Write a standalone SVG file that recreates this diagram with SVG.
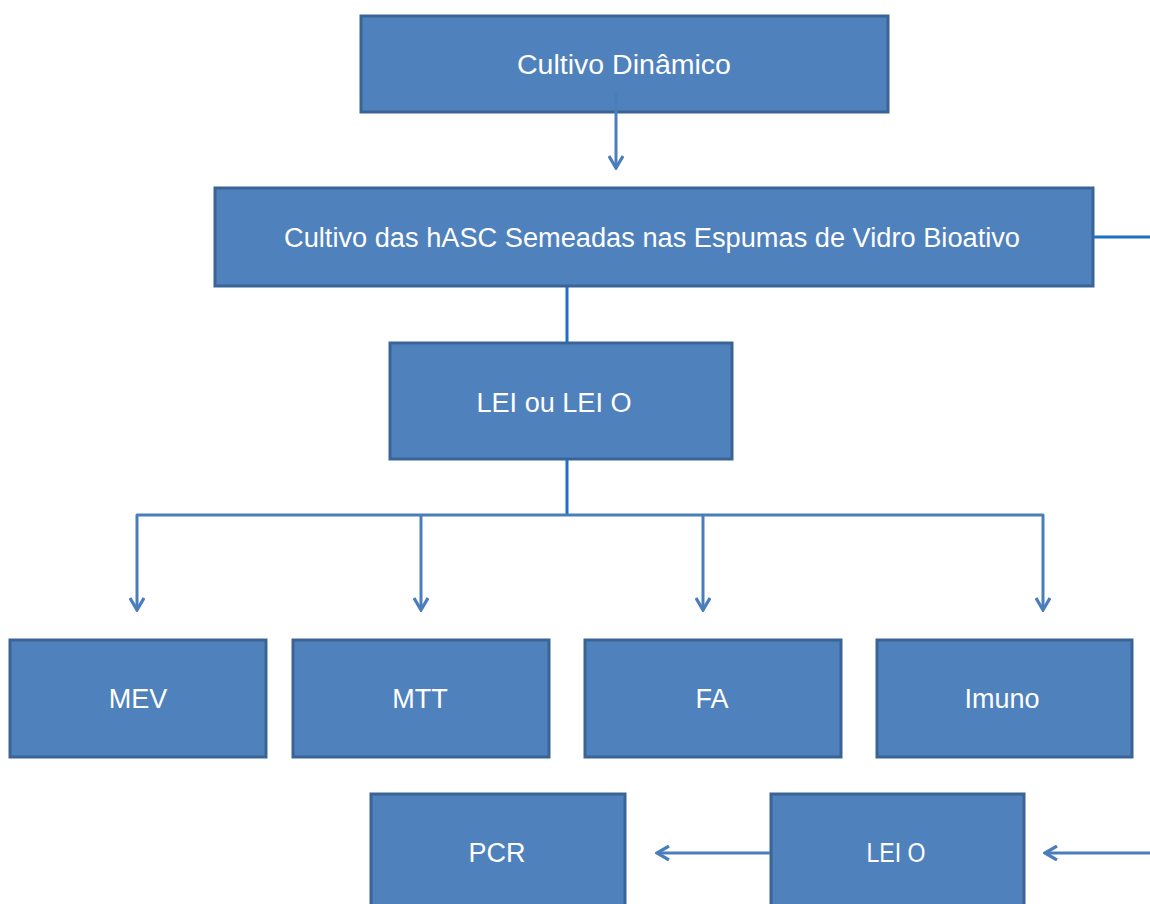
<svg xmlns="http://www.w3.org/2000/svg" width="1150" height="904" viewBox="0 0 1150 904">
  <style>
    .box { fill: #4F81BD; stroke: #3A6496; stroke-width: 3; }
    .lbl { fill: #FFFFFF; font-family: "Liberation Sans", Arial, sans-serif; font-size: 27px; text-anchor: middle; }
    .link { fill: none; stroke: #4A7EBB; stroke-width: 3; stroke-linejoin: round; }
    .trunk { fill: none; stroke: #1F70C1; stroke-width: 3; }
  </style>
  <defs>
    <marker id="chev" viewBox="0 0 16 16" refX="14" refY="8" markerWidth="16" markerHeight="16" markerUnits="userSpaceOnUse" orient="auto">
      <path d="M2,1 L14,8 L2,15" fill="none" stroke="#4A7EBB" stroke-width="3.2" stroke-linejoin="miter"/>
    </marker>
  </defs>
  <rect width="1150" height="904" fill="#FFFFFF"/>

  <g id="cultivo-dinamico">
    <rect class="box" x="361" y="16" width="527" height="96"/>
    <text class="lbl" x="624" y="74" textLength="214" lengthAdjust="spacingAndGlyphs">Cultivo Dinâmico</text>
  </g>
  <g id="cultivo-hasc">
    <rect class="box" x="215" y="188" width="878" height="98"/>
    <text class="lbl" x="652" y="247" textLength="736" lengthAdjust="spacingAndGlyphs">Cultivo das hASC Semeadas nas Espumas de Vidro Bioativo</text>
  </g>
  <g id="lei">
    <rect class="box" x="390" y="343" width="342" height="116"/>
    <text class="lbl" x="554" y="412" textLength="155" lengthAdjust="spacingAndGlyphs">LEI ou LEI O</text>
  </g>
  <g id="mev">
    <rect class="box" x="10" y="640" width="256" height="117"/>
    <text class="lbl" x="138" y="708">MEV</text>
  </g>
  <g id="mtt">
    <rect class="box" x="293" y="640" width="256" height="117"/>
    <text class="lbl" x="420" y="708">MTT</text>
  </g>
  <g id="fa">
    <rect class="box" x="585" y="640" width="256" height="117"/>
    <text class="lbl" x="712" y="708">FA</text>
  </g>
  <g id="imuno">
    <rect class="box" x="877" y="640" width="255" height="117"/>
    <text class="lbl" x="1002" y="708">Imuno</text>
  </g>
  <g id="pcr">
    <rect class="box" x="371" y="794" width="254" height="130"/>
    <text class="lbl" x="497" y="862">PCR</text>
  </g>
  <g id="lei-o">
    <rect class="box" x="771" y="794" width="253" height="130"/>
    <text class="lbl" x="896" y="862" textLength="59" lengthAdjust="spacingAndGlyphs">LEI O</text>
  </g>

  <!-- connectors drawn last so the first arrow shows over its source box -->
  <g id="connectors">
    <path class="link" d="M616,93 V168" marker-end="url(#chev)"/>
    <path class="trunk" d="M1093,237 H1150"/>
    <path class="trunk" d="M567,287 V343"/>
    <path class="trunk" d="M567,459 V515"/>
    <path class="link" d="M567,515 H137 V610" marker-end="url(#chev)"/>
    <path class="link" d="M421,515 V610" marker-end="url(#chev)"/>
    <path class="link" d="M703,515 V610" marker-end="url(#chev)"/>
    <path class="link" d="M567,515 H1043 V610" marker-end="url(#chev)"/>
    <path class="link" d="M770,853 H657" marker-end="url(#chev)"/>
    <path class="link" d="M1150,853 H1045" marker-end="url(#chev)"/>
  </g>
</svg>
